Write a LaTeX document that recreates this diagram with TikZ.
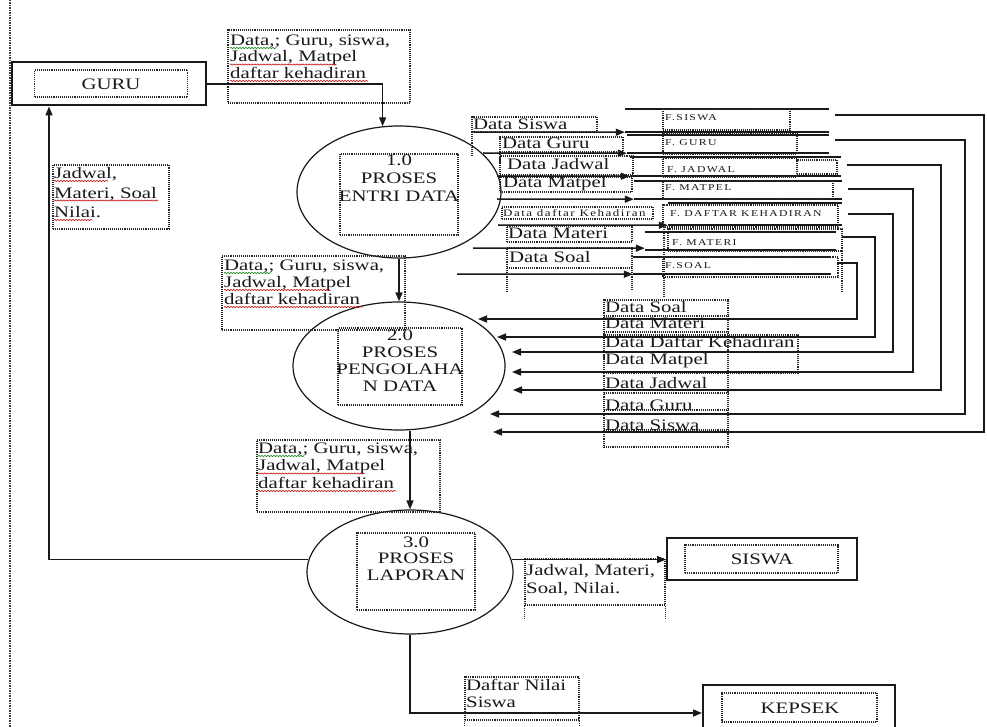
\documentclass[tikz,border=0pt]{standalone}
\usepackage{fontspec}
\setmainfont{Liberation Serif}[FakeStretch=1.3]
\newfontfamily\storefont{Liberation Serif}[FakeStretch=1.3,LetterSpace=15]
\usetikzlibrary{arrows.meta,shapes.geometric,decorations.pathmorphing}
\begin{document}
\begin{tikzpicture}[x=1pt,y=-1pt,
  ln/.style={draw=black!90, line width=1.5pt},
  flow/.style={ln, -{Triangle[length=9pt,width=7pt]}},
  dbox/.style={draw=black!85, densely dotted, line width=1.1pt, inner sep=0pt, fill=none},
  dline/.style={draw=black!85, densely dotted, line width=1.1pt},
  ext/.style={draw=black!90, line width=2pt, inner sep=0pt},
  proc/.style={ellipse, draw=black!90, line width=1.2pt, inner sep=0pt},
  store/.style={inner sep=0pt, draw=none},
  txt/.style={inner sep=0pt, text=black!90, font=\fontsize{16}{17}\selectfont},
  ptxt/.style={txt, align=center, anchor=north},
  ltxt/.style={txt, align=left, anchor=north west},
  stxt/.style={inner sep=0pt, text=black!90, anchor=west, font=\storefont\fontsize{9}{10}\selectfont},
  spell/.style={decorate, decoration={snake, amplitude=0.6pt, segment length=3pt}, line width=0.6pt, draw=red!75!black},
  spellg/.style={spell, draw=green!50!black}
]
\useasboundingbox (0,0) rectangle (987,727);
\fill[white] (0,0) rectangle (987,727);
\draw[densely dotted, line width=1.5pt, black!75] (10,0) -- (10,727);

% external entities
\node[ext, minimum width=194pt, minimum height=43pt] (guru) at (109,84) {};
\node[dbox, minimum width=153pt, minimum height=27pt] (gurub) at (111,83.5) {};
\node[txt] (gurut) at (111,84) {GURU};

\node[ext, minimum width=190pt, minimum height=42pt] (siswa) at (762,559) {};
\node[dbox, minimum width=153pt, minimum height=28pt] (siswab) at (761.5,559) {};
\node[txt] (siswat) at (762,559) {SISWA};

\node[ext, minimum width=192pt, minimum height=56pt] (kepsek) at (799,713) {};
\node[dbox, minimum width=155pt, minimum height=29pt] (kepsekb) at (799.5,707.5) {};
\node[txt] (kepsekt) at (800,708) {KEPSEK};

% processes
\node[proc, minimum width=204pt, minimum height=132pt] (p1) at (399,192) {};
\node[dbox, minimum width=118pt, minimum height=81pt] (p1b) at (399,194.5) {};
\node[ptxt, font=\fontsize{16}{18}\selectfont] (p1t) at (399,154.5) {1.0\\PROSES\\ENTRI DATA};

\node[proc, minimum width=212pt, minimum height=128pt] (p2) at (399,366) {};
\node[dbox, minimum width=124pt, minimum height=77pt] (p2b) at (400,366.5) {};
\node[ptxt] (p2t) at (400,329.5) {2.0\\PROSES\\PENGOLAHA\\N DATA};

\node[proc, minimum width=206pt, minimum height=124pt] (p3) at (410,572) {};
\node[dbox, minimum width=118pt, minimum height=77pt] (p3b) at (416,571.5) {};
\node[ptxt, font=\fontsize{16}{16.5}\selectfont] (p3t) at (416,536.5) {3.0\\PROSES\\LAPORAN};

% label boxes
\node[dbox, minimum width=182pt, minimum height=73pt] (l1) at (319,66.5) {};
\node[ltxt, font=\fontsize{16}{16.5}\selectfont] (l1t) at (230,34.5) {Data,; Guru, siswa,\\Jadwal, Matpel\\daftar kehadiran};
\draw[spellg] ([yshift=-13.5pt]l1t.north west) -- ++(46,0);
\draw[spell] ([yshift=-30pt]l1t.north west) -- ++(106,0);
\draw[spell] ([yshift=-46.5pt]l1t.north west) -- ++(138,0);

\node[dbox, minimum width=183pt, minimum height=74pt] (l2) at (313.5,293) {};
\node[ltxt] (l2t) at (224,259.5) {Data,; Guru, siswa,\\Jadwal, Matpel\\daftar kehadiran};
\draw[spellg] ([yshift=-13.5pt]l2t.north west) -- ++(46,0);
\draw[spell] ([yshift=-30.5pt]l2t.north west) -- ++(106,0);
\draw[spell] ([yshift=-47.5pt]l2t.north west) -- ++(138,0);

\node[dbox, minimum width=183pt, minimum height=72pt] (l3) at (348.5,476) {};
\node[ltxt, font=\fontsize{16}{17.5}\selectfont] (l3t) at (258,442.5) {Data,; Guru, siswa,\\Jadwal, Matpel\\daftar kehadiran};
\draw[spellg] ([yshift=-13.5pt]l3t.north west) -- ++(46,0);
\draw[spell] ([yshift=-31pt]l3t.north west) -- ++(106,0);
\draw[spell] ([yshift=-48.5pt]l3t.north west) -- ++(138,0);

\node[dbox, minimum width=116pt, minimum height=64pt] (l4) at (111,197) {};
\node[ltxt, font=\fontsize{16}{19.5}\selectfont] (l4t) at (54,167.5) {Jadwal,\\Materi, Soal\\Nilai.};
\draw[spell] ([yshift=-13.5pt]l4t.north west) -- ++(54,0);
\draw[spell] ([yshift=-33pt]l4t.north west) -- ++(104,0);
\draw[spell] ([yshift=-52.5pt]l4t.north west) -- ++(38,0);

\node[dbox, minimum width=140pt, minimum height=46pt] (l5) at (595,582) {};
\draw[dline] (l5.south west) -- ++(0,13) (l5.south east) -- ++(0,13);
\node[ltxt, font=\fontsize{16}{18}\selectfont] (l5t) at (526,564.5) {Jadwal, Materi,\\Soal, Nilai.};

\node[dbox, minimum width=114pt, minimum height=43pt] (l6) at (522,698.5) {};
\draw[dline] (l6.south west) -- ++(0,10) (l6.south east) -- ++(0,10);
\node[ltxt] (l6t) at (466,679.5) {Daftar Nilai\\Siswa};

% data stores
\node[store, minimum width=204pt, minimum height=23pt] (s1) at (727,120.5) {};
\node[store, minimum width=202pt, minimum height=18pt] (s2) at (728,144) {};
\node[store, minimum width=211pt, minimum height=19pt] (s3) at (735.5,166.5) {};
\node[store, minimum width=208pt, minimum height=18pt] (s4) at (738,190) {};
\node[store, minimum width=174pt, minimum height=22pt] (s5) at (755,214) {};
\node[store, minimum width=191pt, minimum height=18pt] (s6) at (740.5,241) {};
\node[store, minimum width=198pt, minimum height=17pt] (s7) at (732,265.5) {};
\foreach \s in {s1,s2,s3,s4,s5,s6,s7}{
  \draw[ln] (\s.north west) -- (\s.north east) (\s.south west) -- (\s.south east);
}
\node[dbox, minimum width=127pt, minimum height=21pt] (s1b) at (726.5,119.5) {};
\node[dbox, minimum width=134pt, minimum height=20pt] (s2b) at (730,144) {};
\node[dbox, minimum width=134pt, minimum height=19pt] (s3b) at (730,167.5) {};
\node[dbox, minimum width=40pt, minimum height=14pt] (s3c) at (817,167) {};
\node[dbox, minimum width=170pt, minimum height=18pt] (s4b) at (748,190) {};
\node[dbox, minimum width=175pt, minimum height=22pt] (s5b) at (750.5,216) {};
\node[dbox, minimum width=174pt, minimum height=22pt] (s6b) at (755,240) {};
\node[dbox, minimum width=175pt, minimum height=20pt] (s7b) at (750.5,267) {};
\draw[dline] (664,227) -- (664,298) (842,251) -- (842,292);
\node[stxt] (s1t) at (665,118) {F.SISWA};
\node[stxt] (s2t) at (665,143) {F. GURU};
\node[stxt] (s3t) at (667,170) {F. JADWAL};
\node[stxt] (s4t) at (665,188) {F. MATPEL};
\node[stxt] (s5t) at (670,214) {F. DAFTAR KEHADIRAN};
\node[stxt] (s6t) at (672,243) {F. MATERI};
\node[stxt] (s7t) at (665,266) {F.SOAL};

% labels of flows into the stores
\node[dbox, minimum width=125pt, minimum height=15pt] (d1) at (534.5,124.5) {};
\node[txt, anchor=west] (d1t) at (473,124) {Data Siswa};
\node[dbox, minimum width=123pt, minimum height=15pt] (d2) at (561.5,144.5) {};
\node[txt, anchor=west] (d2t) at (502,143) {Data Guru};
\node[dbox, minimum width=133pt, minimum height=19pt] (d3) at (566.5,165.5) {};
\node[txt, anchor=west] (d3t) at (507,164) {Data Jadwal};
\node[dbox, minimum width=132pt, minimum height=15pt] (d4) at (566,184.5) {};
\node[txt, anchor=west] (d4t) at (503,184) {Data Matpel};
\node[dbox, minimum width=151pt, minimum height=12pt] (d5) at (577.5,213) {};
\node[stxt, font=\storefont\fontsize{10}{11}\selectfont] (d5t) at (503,213) {Data daftar Kehadiran};
\node[dbox, minimum width=125pt, minimum height=16pt] (d6) at (569.5,234) {};
\node[txt, anchor=west] (d6t) at (508,233) {Data Materi};
\node[dbox, minimum width=125pt, minimum height=20pt] (d7) at (569.5,258) {};
\node[txt, anchor=west] (d7t) at (509,257) {Data Soal};
\draw[dline] (472,132) -- (472,156) (500,152) -- (500,177) (507,268) -- (507,292) (632,268) -- (632,290);

% flows from 1.0 into the stores
\coordinate (i1) at (473,132);
\coordinate (i2) at (483,153);
\coordinate (i3) at (497,176);
\coordinate (i4) at (497,199);
\coordinate (i5) at (498,225);
\coordinate (i6) at (473,248);
\coordinate (i7) at (457,274);
\draw[flow] (i1) -- (s1.south west);
\draw[flow] (i2) -- (s2.south west);
\draw[flow] (i3) -- (s3.south west);
\draw[flow] (i4) -- (s4.south west);
\draw[flow] (i5) -- (s5.south west);
\draw[flow] (i6) -- ([yshift=2pt]s6.south west);
\draw[flow] (i7) -- (s7.south west);

% labels of flows into 2.0
\node[dbox, minimum width=124pt, minimum height=147pt] (c0) at (666,373.5) {};
\node[dbox, minimum width=194pt, minimum height=38pt] (c3) at (701,354) {};
\draw[dline] (604,316) -- (728,316) (604,332) -- (728,332) (604,393) -- (728,393) (604,410) -- (728,410) (604,430) -- (728,430);
\node[txt, anchor=west] (c1t) at (605,307) {Data Soal};
\node[txt, anchor=west] (c2t) at (605,323) {Data Materi};
\node[txt, anchor=west] (c3t) at (605,342) {Data Daftar Kehadiran};
\node[txt, anchor=west] (c4t) at (605,361) {Data Matpel};
\node[txt, anchor=west] (c5t) at (605,383) {Data Jadwal};
\node[txt, anchor=west] (c6t) at (605,405) {Data Guru};
\node[txt, anchor=west] (c7t) at (605,425) {Data Siswa};

% flows from the stores into 2.0
\coordinate (r1) at (984,432); \coordinate (t1) at (493,432);
\coordinate (r2) at (965,414); \coordinate (t2) at (490,414);
\coordinate (r3) at (941,390); \coordinate (t3) at (513,390);
\coordinate (r4) at (913,372); \coordinate (t4) at (512,372);
\coordinate (r5) at (893,352); \coordinate (t5) at (512,352);
\coordinate (r6) at (875,337); \coordinate (t6) at (497,337);
\coordinate (r7) at (857,319); \coordinate (t7) at (478,319);
\draw[flow] ([xshift=6pt,yshift=5.5pt]s1.east) -| (r1) -- (t1);
\draw[flow] ([xshift=6pt,yshift=4pt]s2.east) -| (r2) -- (t2);
\draw[flow] ([xshift=6pt,yshift=1.5pt]s3.east) -| (r3) -- (t3);
\draw[flow] ([xshift=6pt,yshift=1pt]s4.east) -| (r4) -- (t4);
\draw[flow] ([xshift=6pt]s5.east) -| (r5) -- (t5);
\draw[flow] ([xshift=6pt,yshift=4pt]s6.east) -| (r6) -- (t6);
\draw[flow] ([xshift=6pt,yshift=2.5pt]s7.east) -| (r7) -- (t7);

% main flows
\draw[flow] (guru.east) -| (p1.104);
\draw[flow] (p1.south) -- (p2.north);
\draw[flow] (p3.north |- p2.south) -- (p3.north);
\draw[flow] (p3.173) -| (guru.south -| 49,0);
\draw[flow] (p3.7) -- (p3.7 -| siswa.west);
\draw[flow] (p3.south) |- (kepsek.west);
\end{tikzpicture}
\end{document}
